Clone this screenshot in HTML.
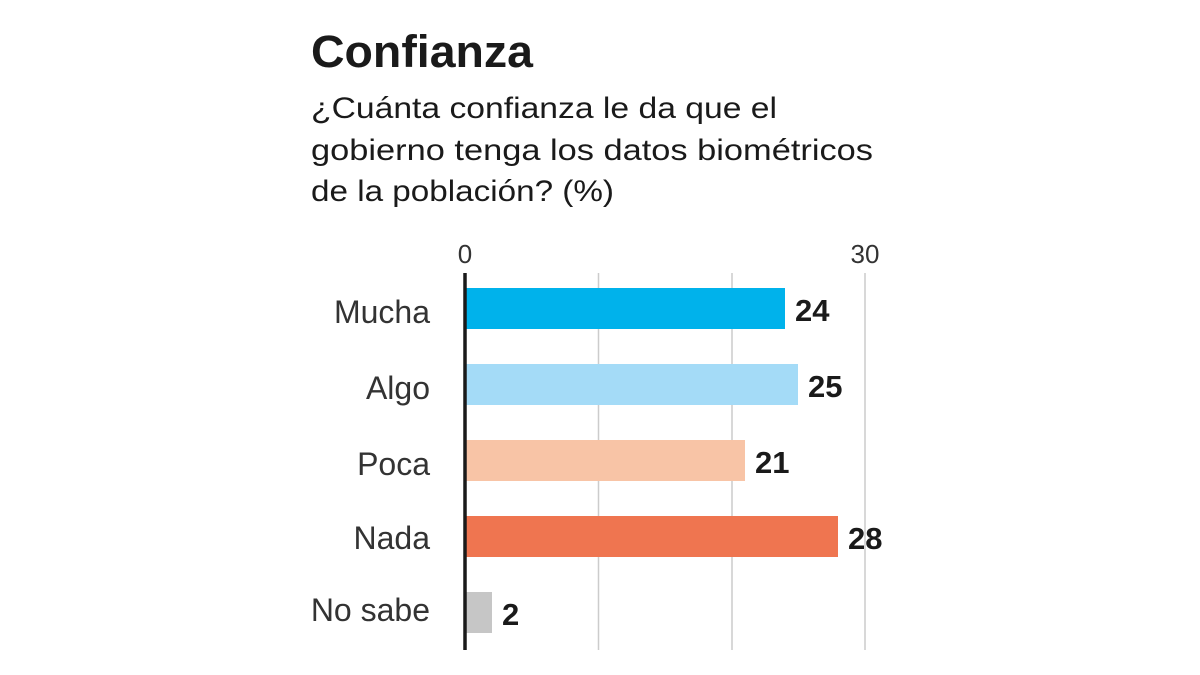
<!DOCTYPE html>
<html><head><meta charset="utf-8"><style>
html,body{margin:0;padding:0;background:#fff;}
svg{display:block;font-family:"Liberation Sans",sans-serif;}
</style></head><body>
<svg width="1200" height="675" viewBox="0 0 1200 675">
<text x="311" y="67" font-size="45" font-weight="bold" fill="#1a1a1a" textLength="222" lengthAdjust="spacingAndGlyphs">Confianza</text>
<g font-size="30" fill="#1a1a1a">
<text x="311" y="118" textLength="466" lengthAdjust="spacingAndGlyphs">¿Cuánta confianza le da que el</text>
<text x="311" y="160" textLength="562" lengthAdjust="spacingAndGlyphs">gobierno tenga los datos biométricos</text>
<text x="311" y="201" textLength="303" lengthAdjust="spacingAndGlyphs">de la población? (%)</text>
</g>
<g font-size="26" fill="#333">
<text x="465" y="263" text-anchor="middle">0</text>
<text x="865" y="263" text-anchor="middle">30</text>
</g>
<g stroke="#ccc" stroke-width="1.5">
<line x1="598.5" y1="273" x2="598.5" y2="650"/>
<line x1="732" y1="273" x2="732" y2="650"/>
<line x1="865" y1="273" x2="865" y2="650"/>
</g>
<rect x="465" y="288" width="320" height="41" fill="#00b2eb"/>
<rect x="465" y="364" width="333" height="41" fill="#a4dbf7"/>
<rect x="465" y="440" width="280" height="41" fill="#f8c4a6"/>
<rect x="465" y="516" width="373" height="41" fill="#ef7550"/>
<rect x="465" y="592" width="27" height="41" fill="#c6c6c6"/>
<line x1="465" y1="273" x2="465" y2="650" stroke="#1a1a1a" stroke-width="3.5"/>
<g font-size="32" fill="#333" text-anchor="end">
<text x="430" y="323">Mucha</text>
<text x="430" y="399">Algo</text>
<text x="430" y="475">Poca</text>
<text x="430" y="549">Nada</text>
<text x="430" y="621">No sabe</text>
</g>
<g font-size="31" font-weight="bold" fill="#1a1a1a">
<text x="795" y="321">24</text>
<text x="808" y="397">25</text>
<text x="755" y="473">21</text>
<text x="848" y="549">28</text>
<text x="502" y="625">2</text>
</g>
</svg>
</body></html>
